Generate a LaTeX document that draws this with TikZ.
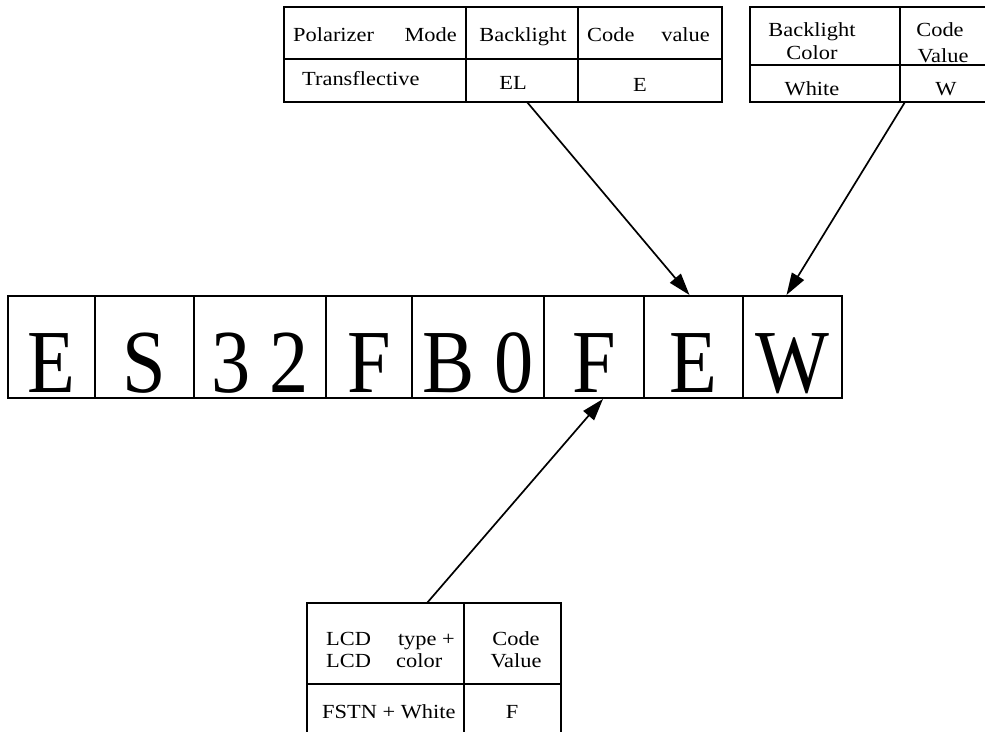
\documentclass[tikz,border=0pt]{standalone}
\usepackage{fontspec}
\setmainfont{Liberation Serif}
\newfontfamily\tabfont[FakeStretch=1.12]{Liberation Serif}
\newfontfamily\codefont[FakeStretch=0.87]{Liberation Serif}
\usetikzlibrary{arrows.meta,calc}

\begin{document}
\begin{tikzpicture}[x=1pt,y=-1pt,
  grid/.style={line width=2pt},
  cell/.style={draw,line width=2pt,minimum height=102pt,inner sep=0pt,anchor=north west},
  code/.style={font=\codefont\fontsize{90}{90}\selectfont,anchor=base,inner sep=0pt},
  lbl/.style={font=\tabfont\fontsize{20}{20}\selectfont,inner sep=0pt},
  pointer/.style={line width=1.7pt,-{Triangle[length=22pt,width=14pt]}}]

\useasboundingbox (0,0) rectangle (985,731);

% ---- part number row ----
\node[cell,minimum width=87pt]  (c1) at (7,295)   {};
\node[cell,minimum width=99pt]  (c2) at (94,295)  {};
\node[cell,minimum width=132pt] (c3) at (193,295) {};
\node[cell,minimum width=86pt]  (c4) at (325,295) {};
\node[cell,minimum width=132pt] (c5) at (411,295) {};
\node[cell,minimum width=100pt] (c6) at (543,295) {};
\node[cell,minimum width=99pt]  (c7) at (643,295) {};
\node[cell,minimum width=99pt]  (c8) at (742,295) {};

\node[code] (l1) at ($(c1.south)+(0,-7)$) {E};
\node[code] (l2) at ($(c2.south)+(0,-7)$) {S};
\node[code] (l3) at ($(c3.south)+(0,-7)$) {3 2};
\node[code] (l4) at ($(c4.south)+(0,-7)$) {F};
\node[code] (l5) at ($(c5.south)+(0,-7)$) {B 0};
\node[code] (l6) at ($(c6.south)+(0,-7)$) {F};
\node[code] (l7) at ($(c7.south)+(0,-7)$) {E};
\node[code] (l8) at ($(c8.south)+(0,-7)$) {W};

% ---- polarizer / backlight table ----
\draw[grid] (284,7) rectangle (722,102);
\draw[grid] (284,59) -- (722,59);
\draw[grid] (466,7) -- (466,102) (578,7) -- (578,102);
\node[lbl,anchor=base west] (pol)   at (293,41) {Polarizer};
\node[lbl,anchor=base east] (mode)  at (457,41) {Mode};
\node[lbl,anchor=base]      (bl)    at (523,41) {Backlight};
\node[lbl,anchor=base west] (cd1)   at (587,41) {Code};
\node[lbl,anchor=base east] (val1)  at (710,41) {value};
\node[lbl,anchor=base west] (trans) at (302,85) {Transflective};
\node[lbl,anchor=base]      (el)    at (513,89) {EL};
\node[lbl,anchor=base]      (ev)    at (640,91) {E};

% ---- backlight colour table ----
\draw[grid] (986,7) -- (750,7) -- (750,102) -- (986,102);
\draw[grid] (750,65) -- (986,65);
\draw[grid] (900,7) -- (900,102);
\node[lbl,anchor=base] (blc1) at (812,36) {Backlight};
\node[lbl,anchor=base] (blc2) at (812,59) {Color};
\node[lbl,anchor=base] (cd2)  at (940,36) {Code};
\node[lbl,anchor=base] (val2) at (943,62) {Value};
\node[lbl,anchor=base] (wht)  at (812,95) {White};
\node[lbl,anchor=base] (wv)   at (946,95) {W};

% ---- LCD type table ----
\draw[grid] (307,732) -- (307,603) -- (561,603) -- (561,732);
\draw[grid] (464,603) -- (464,732);
\draw[grid] (307,684) -- (561,684);
\node[lbl,anchor=base west] (lcd1) at (326,645) {LCD};
\node[lbl,anchor=base east] (typ)  at (455,645) {type +};
\node[lbl,anchor=base west] (lcd2) at (326,667) {LCD};
\node[lbl,anchor=base west] (col)  at (396,667) {color};
\node[lbl,anchor=base] (cd3)  at (516,645) {Code};
\node[lbl,anchor=base] (val3) at (516,667) {Value};
\node[lbl,anchor=base west] (fstn) at (322,718) {FSTN + White};
\node[lbl,anchor=base] (fv)   at (512,718) {F};

% ---- pointers ----
\coordinate (s1) at (527,102);
\coordinate (s2) at (905,102);
\coordinate (s3) at (427,603);
\draw[pointer] (s1) -- ($(c7.north)+(-4,0)$);
\draw[pointer] (s2) -- ($(c8.north)+(-6,0)$);
\draw[pointer] (s3) -- ($(c6.south)+(9,0)$);

\end{tikzpicture}
\end{document}
